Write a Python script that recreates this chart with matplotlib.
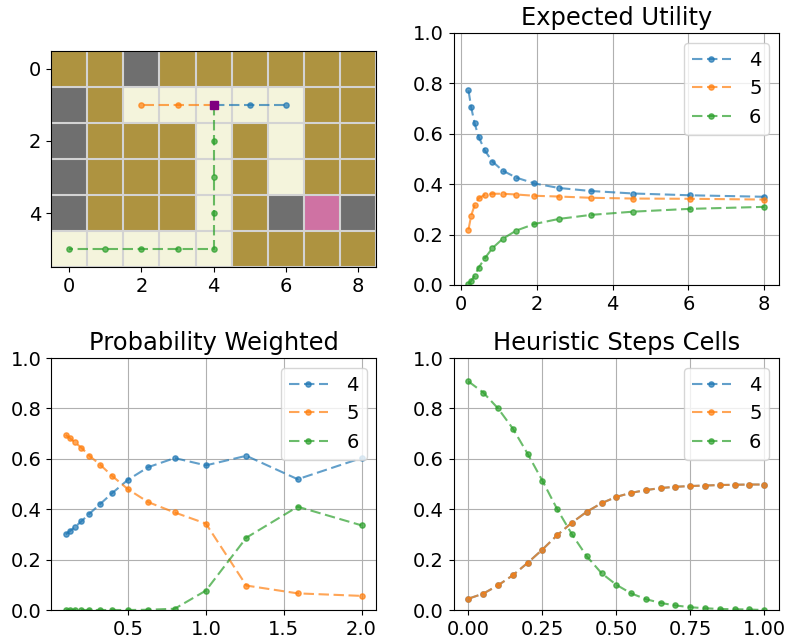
import numpy as np
from matplotlib import pyplot as plt
from matplotlib.colors import ListedColormap

plt.rcParams["font.size"] = 14

# 0 wall, 1 corridor, 2 gray, 3 goal
grid_map = [
    [0, 0, 2, 0, 0, 0, 0, 0, 0],
    [2, 0, 1, 1, 1, 1, 1, 0, 0],
    [2, 0, 0, 0, 1, 0, 1, 0, 0],
    [2, 0, 0, 0, 1, 0, 1, 0, 0],
    [2, 0, 0, 0, 1, 0, 2, 3, 2],
    [1, 1, 1, 1, 1, 0, 0, 0, 0],
]
map_colors = ["#ae9340", "#f4f4dc", "#6f6f6f", "#cf72a3"]

agent = (4, 1)
path_4_x = [4, 5, 6]
path_4_y = [1, 1, 1]
path_5_x = [4, 3, 2]
path_5_y = [1, 1, 1]
path_6_x = [4, 4, 4, 4, 4, 3, 2, 1, 0]
path_6_y = [1, 2, 3, 4, 5, 5, 5, 5, 5]

labels = ["4", "5", "6"]

utility_x = [0.2, 0.27, 0.36, 0.47, 0.63, 0.83, 1.1, 1.46, 1.94, 2.58, 3.42, 4.55, 6.03, 8.0]
utility_4 = [0.772, 0.706, 0.642, 0.587, 0.534, 0.49, 0.454, 0.426, 0.403, 0.385, 0.373, 0.363, 0.356, 0.35]
utility_5 = [0.22, 0.275, 0.316, 0.344, 0.358, 0.362, 0.362, 0.359, 0.354, 0.351, 0.346, 0.343, 0.342, 0.339]
utility_6 = [0.003, 0.016, 0.037, 0.069, 0.106, 0.146, 0.183, 0.216, 0.242, 0.262, 0.278, 0.291, 0.302, 0.31]

prob_x = [0.1, 0.126, 0.16, 0.2, 0.25, 0.32, 0.4, 0.5, 0.63, 0.8, 1.0, 1.26, 1.59, 2.0]
prob_4 = [0.30, 0.313, 0.33, 0.352, 0.381, 0.42, 0.465, 0.517, 0.567, 0.603, 0.574, 0.612, 0.519, 0.603]
prob_5 = [0.695, 0.682, 0.665, 0.644, 0.613, 0.577, 0.531, 0.479, 0.428, 0.387, 0.343, 0.097, 0.066, 0.056]
prob_6 = [0.0, 0.0, 0.0, 0.0, 0.0, 0.0, 0.0, 0.0, 0.001, 0.005, 0.077, 0.287, 0.41, 0.336]

steps_x = [0.0, 0.05, 0.1, 0.15, 0.2, 0.25, 0.3, 0.35, 0.4, 0.45, 0.5,
           0.55, 0.6, 0.65, 0.7, 0.75, 0.8, 0.85, 0.9, 0.95, 1.0]
steps_4 = [0.045, 0.065, 0.098, 0.138, 0.187, 0.24, 0.297, 0.347, 0.39, 0.424, 0.449,
           0.465, 0.476, 0.484, 0.489, 0.492, 0.494, 0.496, 0.497, 0.498, 0.498]
steps_5 = list(steps_4)
steps_6 = [0.907, 0.863, 0.80, 0.72, 0.62, 0.513, 0.40, 0.30, 0.213, 0.146, 0.10,
           0.066, 0.043, 0.028, 0.018, 0.011, 0.007, 0.004, 0.003, 0.002, 0.0]

dash = (0, (5, 2.2))


def plot_curves(ax, title, x, series):
    for values, label in zip(series, labels):
        ax.plot(x, values, marker="o", linestyle=dash, markersize=3.8, alpha=0.7, label=label)
    ax.set_title(title, fontsize=17.4)
    ax.set_ylim(0, 1)
    ax.grid(True)
    ax.legend(loc="upper right", handlelength=2, handletextpad=0.95)


fig, axes = plt.subplots(2, 2, figsize=(7.87, 6.41), dpi=100)
fig.subplots_adjust(left=51 / 787, right=779 / 787, top=1 - 33 / 641,
                    bottom=1 - 610 / 641, wspace=0.238, hspace=0.29)

ax = axes[0, 0]
ax.imshow(np.array(grid_map), cmap=ListedColormap(map_colors), vmin=0, vmax=3)
ax.set_xticks(np.arange(-0.5, 9, 1), minor=True)
ax.set_yticks(np.arange(-0.5, 6, 1), minor=True)
ax.grid(which="minor", color="lightgray", linewidth=1.5)
ax.tick_params(which="minor", length=0)
ax.set_xticks([0, 2, 4, 6, 8])
ax.set_yticks([0, 2, 4])
ax.plot(path_4_x, path_4_y, marker="o", linestyle=dash, markersize=3.8, alpha=0.7)
ax.plot(path_5_x, path_5_y, marker="o", linestyle=dash, markersize=3.8, alpha=0.7)
ax.plot(path_6_x, path_6_y, marker="o", linestyle=dash, markersize=3.8, alpha=0.7)
ax.plot(agent[0], agent[1], "s", color="purple", markersize=5.5)

plot_curves(axes[0, 1], "Expected Utility", utility_x, [utility_4, utility_5, utility_6])
plot_curves(axes[1, 0], "Probability Weighted", prob_x, [prob_4, prob_5, prob_6])
plot_curves(axes[1, 1], "Heuristic Steps Cells", steps_x, [steps_4, steps_5, steps_6])
axes[1, 1].set_xticks([0.0, 0.25, 0.5, 0.75, 1.0])

plt.savefig("out.png", dpi=100)
